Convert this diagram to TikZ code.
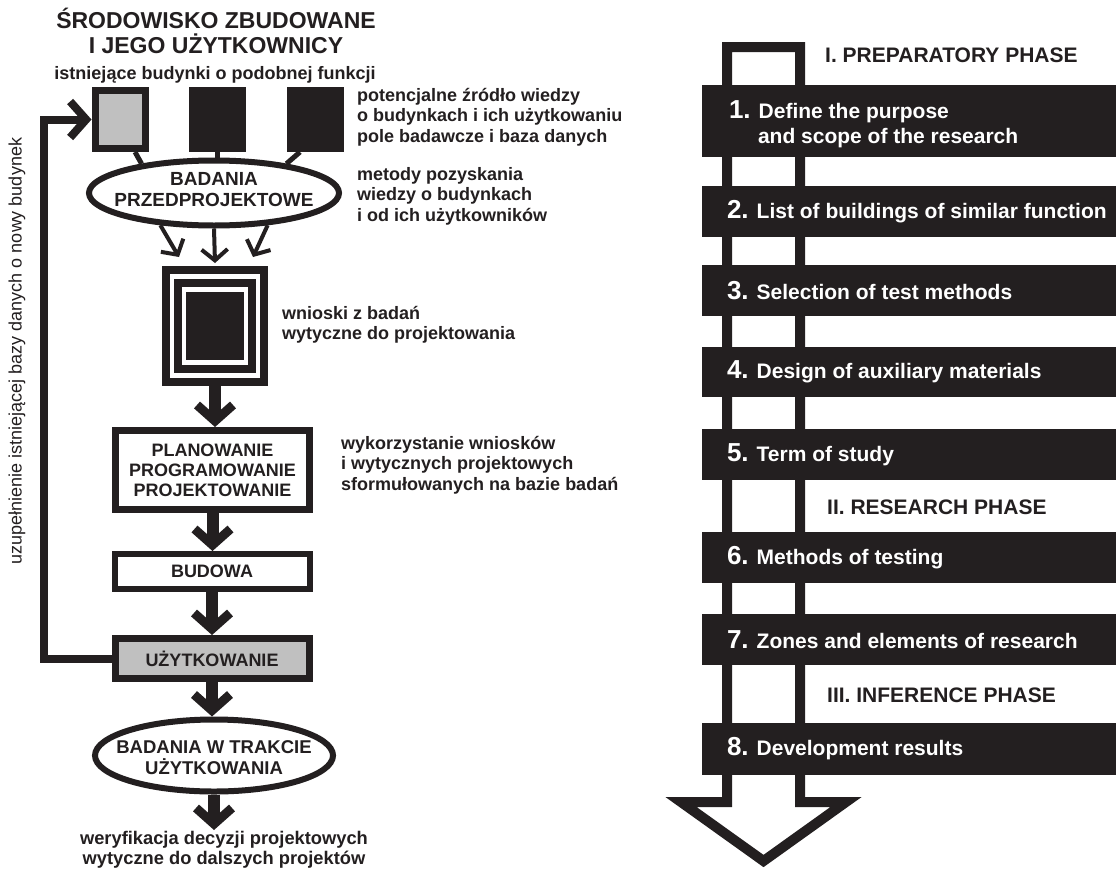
\documentclass[tikz,border=0pt]{standalone}
\usepackage{fontspec}
\setmainfont{Liberation Sans}
\usetikzlibrary{shapes.geometric,arrows.meta,calc}
\definecolor{ink}{RGB}{35,31,32}
\definecolor{boxgray}{RGB}{192,192,192}
\newcommand\fsz[2]{\fontsize{#1pt}{#2pt}\selectfont}
\newcommand\numf{\fsz{26}{26}}
\begin{document}
\begin{tikzpicture}[x=1pt,y=-1pt,
  txt/.style={text=ink,inner sep=0pt,align=left,font=\bfseries\fsz{18}{20.5}},
  sq/.style={draw=ink,line width=7pt,minimum width=50pt,minimum height=58pt,inner sep=0pt},
  ell/.style={ellipse,draw=ink,line width=6pt,fill=white,inner sep=0pt},
  ellbl/.style={align=center,text=ink,inner sep=0pt},
  boxst/.style={draw=ink,line width=7pt,fill=white,minimum width=194pt,inner sep=0pt,align=center,text=ink,font=\bfseries\fsz{18}{20}},
  bigarr/.style={draw=ink,line width=12pt,-{Straight Barb[length=16pt,width=36pt,line width=9pt]}},
  smallarr/.style={draw=ink,line width=4pt,-{Straight Barb[length=11pt,width=26pt,line width=4pt]}},
  fbarr/.style={draw=ink,line width=8pt,-{Straight Barb[length=16pt,width=36pt,line width=8pt]}},
  conn/.style={draw=ink,line width=5pt},
  bar/.style={rectangle,fill=ink,minimum width=414pt,inner sep=0pt},
  bartxt/.style={anchor=west,text=white,inner sep=0pt,align=left,font=\bfseries\fsz{21}{25}},
  phase/.style={anchor=west,text=ink,inner sep=0pt,font=\bfseries\fsz{21}{23}}
]
\useasboundingbox[fill=white] (0,0) rectangle (1116,870);

% ---------- left column ----------
\node[text=ink,inner sep=0pt,align=center,font=\bfseries\fsz{23}{24.5}] (title) at (216,31) {ŚRODOWISKO ZBUDOWANE\\I JEGO UŻYTKOWNICY};
\node[txt] (exist) at (215,75) {istniejące budynki o podobnej funkcji};

\node[sq,fill=boxgray] (s1) at (120,119.5) {};
\node[sq,fill=ink] (s2) at (217,119.5) {};
\node[sq,fill=ink] (s3) at (315,119.5) {};

\node[ell,minimum width=250pt,minimum height=65pt] (pre) at (214,193) {};
\node[ellbl,font=\bfseries\fsz{19}{21}] (prelbl) at ($(pre.center)+(0,-3)$) {BADANIA\\PRZEDPROJEKTOWE};

\draw[conn] ($(s1.south)+(15,0)$) -- (pre.158);
\draw[conn] (s2.south) -- (s2.south |- pre.north);
\draw[conn] ($(s3.south)+(-15,0)$) -- (pre.22);

\node[txt,anchor=west] (src) at (357,117) {potencjalne źródło wiedzy\\o budynkach i ich użytkowaniu\\pole badawcze i baza danych};
\node[txt,anchor=west] (meth) at (357,196) {metody pozyskania\\wiedzy o budynkach\\i od ich użytkowników};

% nested square
\node[draw=ink,line width=8pt,minimum width=98pt,minimum height=112pt,inner sep=0pt] (res) at (215,326) {};
\node[draw=ink,line width=8pt,minimum width=74pt,minimum height=86pt,inner sep=0pt] (resin) at (res.center) {};
\node[fill=ink,minimum width=58pt,minimum height=68pt,inner sep=0pt] (rescore) at (res.center) {};

\draw[smallarr] (pre.211) -- ($(res.north)+(-36,-9)$);
\draw[smallarr] (pre.south) -- ($(res.north)+(0,-3)$);
\draw[smallarr] (pre.329) -- ($(res.north)+(38,-9)$);

\node[txt,anchor=west] (concl) at (282,325) {wnioski z badań\\wytyczne do projektowania};

\node[boxst,minimum height=79pt] (plan) at (212.5,470) {PLANOWANIE\\PROGRAMOWANIE\\PROJEKTOWANIE};
\node[txt,anchor=west] (use) at (341,465) {wykorzystanie wniosków\\i wytycznych projektowych\\sformułowanych na bazie badań};

\node[boxst,line width=6pt,minimum width=195pt,minimum height=35pt] (bud) at (212,571.5) {BUDOWA};
\node[boxst,fill=boxgray,minimum height=40pt] (uzy) at (212,658.5) {UŻYTKOWANIE};

\node[ell,minimum width=238pt,minimum height=72pt] (post) at (214,755.5) {};
\node[ellbl,font=\bfseries\fsz{18.5}{21}] (postlbl) at ($(post.center)+(0,2)$) {BADANIA W TRAKCIE\\UŻYTKOWANIA};

\node[text=ink,inner sep=0pt,align=center,anchor=north,font=\bfseries\fsz{18.3}{20.5}] (out) at (224,831) {weryfikacja decyzji projektowych\\wytyczne do dalszych projektów};

\draw[bigarr] (res.south) -- (res.south |- plan.north);
\draw[bigarr] (plan.south) -- (plan.south |- bud.north);
\draw[bigarr] (bud.south) -- (bud.south |- uzy.north);
\draw[bigarr] (uzy.south) -- (uzy.south |- post.north);
\draw[bigarr] (post.south) -- ($(post.south |- out.north)+(0,-1)$);

\coordinate (fbx) at (44,0);
\draw[fbarr] (uzy.west) -- (uzy.west -| fbx) -- (s1.west -| fbx) -- (s1.west);
\node[rotate=90,text=ink,inner sep=0pt,font=\fsz{18}{20}] (fblab) at (17,351) {uzupełnienie istniejącej bazy danych o nowy budynek};

% ---------- right column ----------
\draw[ink,line width=10pt,fill=white,line join=miter] (727,47) -- (727,802) -- (681,802) -- (763.5,861) -- (846,802) -- (800,802) -- (800,47) -- cycle;

\node[phase] (ph1) at (825,55) {I. PREPARATORY PHASE};
\node[phase] (ph2) at (827,507) {II. RESEARCH PHASE};
\node[phase] (ph3) at (827,695) {III. INFERENCE PHASE};

\node[bar,minimum height=72pt] (b1) at (909,121) {};
\node[bar,minimum height=51pt] (b2) at (909,211.5) {};
\node[bar,minimum height=51pt] (b3) at (909,290.5) {};
\node[bar,minimum height=50pt] (b4) at (909,372) {};
\node[bar,minimum height=51pt] (b5) at (909,454.5) {};
\node[bar,minimum height=51pt] (b6) at (909,557.5) {};
\node[bar,minimum height=51pt] (b7) at (909,639.5) {};
\node[bar,minimum height=52pt] (b8) at (909,749) {};

\node[bartxt] (t1) at ($(b1.west)+(27,3)$) {{\numf 1.}\hspace{8pt}Define the purpose\\\hspace*{29pt}and scope of the research};
\node[bartxt] (t2) at ($(b2.west)+(25,0)$) {{\numf 2.}\hspace{8pt}List of buildings of similar function};
\node[bartxt] (t3) at ($(b3.west)+(25,0)$) {{\numf 3.}\hspace{8pt}Selection of test methods};
\node[bartxt] (t4) at ($(b4.west)+(25,0)$) {{\numf 4.}\hspace{8pt}Design of auxiliary materials};
\node[bartxt] (t5) at ($(b5.west)+(25,0)$) {{\numf 5.}\hspace{8pt}Term of study};
\node[bartxt] (t6) at ($(b6.west)+(25,0)$) {{\numf 6.}\hspace{8pt}Methods of testing};
\node[bartxt] (t7) at ($(b7.west)+(25,0)$) {{\numf 7.}\hspace{8pt}Zones and elements of research};
\node[bartxt] (t8) at ($(b8.west)+(25,0)$) {{\numf 8.}\hspace{8pt}Development results};
\end{tikzpicture}
\end{document}
